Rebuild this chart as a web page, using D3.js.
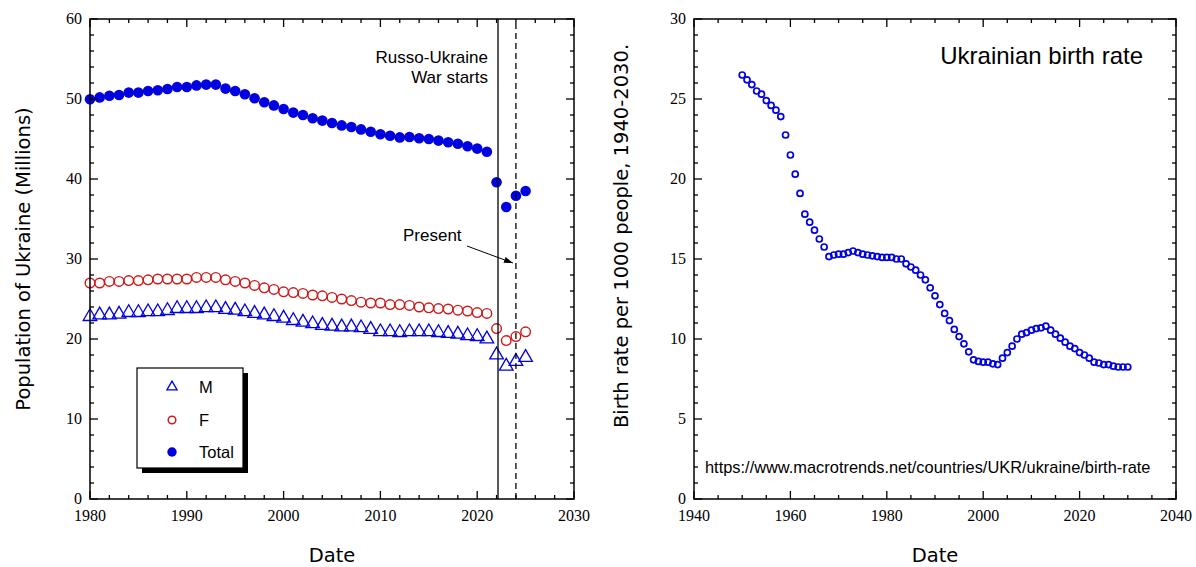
<!DOCTYPE html>
<html>
<head>
<meta charset="utf-8">
<script src="https://cdn.jsdelivr.net/npm/d3@7"></script>
<style>
  body { margin: 0; background: #fff; }
  svg { display: block; }
  .tick-label { font-family: "Liberation Serif", "DejaVu Serif", serif; font-size: 16px; fill: #000; }
  .axis-title { font-family: "DejaVu Sans", Verdana, sans-serif; font-size: 19.5px; fill: #000; }
  .note { font-family: "Liberation Sans", Arial, sans-serif; fill: #000; }
</style>
</head>
<body>
<svg id="chart" width="1196" height="567"></svg>
<script>
// population of Ukraine, millions
const popYears = d3.range(1980, 2026);
const popTotal = [49.96, 50.2, 50.4, 50.5, 50.8, 50.8, 51.0, 51.1, 51.25, 51.5,
  51.5, 51.7, 51.8, 51.8, 51.3, 51.0, 50.6, 50.1, 49.6, 49.2,
  48.75, 48.3, 48.0, 47.6, 47.3, 47.0, 46.7, 46.5, 46.2, 45.9,
  45.6, 45.4, 45.2, 45.25, 45.1, 45.0, 44.8, 44.6, 44.4, 44.1,
  43.8, 43.4, 39.6, 36.5, 37.9, 38.5];
const popF = [27.0, 27.0, 27.2, 27.2, 27.3, 27.3, 27.4, 27.5, 27.5, 27.5,
  27.5, 27.7, 27.7, 27.7, 27.4, 27.2, 27.0, 26.7, 26.4, 26.2,
  25.9, 25.8, 25.7, 25.5, 25.4, 25.2, 25.0, 24.8, 24.6, 24.5,
  24.5, 24.3, 24.3, 24.2, 24.0, 23.9, 23.8, 23.75, 23.6, 23.5,
  23.3, 23.2, 21.3, 19.8, 20.3, 20.9];
const popM = [22.8, 23.0, 23.0, 23.1, 23.3, 23.3, 23.4, 23.4, 23.55, 23.8,
  23.8, 23.8, 23.9, 23.9, 23.7, 23.6, 23.4, 23.2, 23.0, 22.8,
  22.6, 22.3, 22.1, 21.9, 21.7, 21.6, 21.5, 21.5, 21.4, 21.2,
  20.9, 20.9, 20.8, 20.9, 20.9, 20.9, 20.8, 20.7, 20.6, 20.4,
  20.3, 20.0, 18.0, 16.6, 17.2, 17.7];
const warStart = 2022.15;
const presentYear = 2024;
const legendItems = ["M", "F", "Total"];

// birth rate per 1000 people
const brYears = d3.range(1950, 2031);
const birthRate = [26.5, 26.2, 25.9, 25.5, 25.3, 24.9, 24.6, 24.3, 23.9, 22.75,
  21.5, 20.3, 19.1, 17.8, 17.3, 16.8, 16.25, 15.75, 15.15, 15.25,
  15.3, 15.3, 15.4, 15.5, 15.4, 15.3, 15.25, 15.2, 15.15, 15.1,
  15.1, 15.1, 15.0, 15.0, 14.7, 14.5, 14.3, 14.0, 13.7, 13.2,
  12.7, 12.15, 11.6, 11.15, 10.6, 10.15, 9.7, 9.2, 8.7, 8.6,
  8.55, 8.55, 8.45, 8.4, 8.8, 9.15, 9.55, 10.0, 10.3, 10.4,
  10.55, 10.65, 10.7, 10.8, 10.55, 10.3, 10.05, 9.8, 9.55, 9.4,
  9.15, 9.0, 8.8, 8.55, 8.5, 8.4, 8.4, 8.3, 8.25, 8.25,
  8.25];

const svg = d3.select("#chart");
const blue = "#0000e0";
const red = "#d01818";

// box with inward ticks on all four sides + tick labels
function frame(g, x, y, xMajor, xMinor, yMajor, yMinor) {
  const [x0, x1] = x.range();
  const [y0, y1] = y.range();
  const tg = g.append("g").attr("stroke", "#000").attr("stroke-width", 1.3);
  d3.range(x.domain()[0], x.domain()[1] + 1e-9, xMinor).forEach((v) => {
    const len = Math.abs(v % xMajor) < 1e-9 ? 8 : 4;
    tg.append("line").attr("x1", x(v)).attr("x2", x(v)).attr("y1", y0).attr("y2", y0 - len);
    tg.append("line").attr("x1", x(v)).attr("x2", x(v)).attr("y1", y1).attr("y2", y1 + len);
  });
  d3.range(y.domain()[0], y.domain()[1] + 1e-9, yMinor).forEach((v) => {
    const len = Math.abs(v % yMajor) < 1e-9 ? 8 : 4;
    tg.append("line").attr("x1", x0).attr("x2", x0 + len).attr("y1", y(v)).attr("y2", y(v));
    tg.append("line").attr("x1", x1).attr("x2", x1 - len).attr("y1", y(v)).attr("y2", y(v));
  });
  g.append("rect")
    .attr("x", x0).attr("y", y1)
    .attr("width", x1 - x0).attr("height", y0 - y1)
    .attr("fill", "none").attr("stroke", "#000").attr("stroke-width", 1.5);

  g.selectAll(".xl")
    .data(d3.range(x.domain()[0], x.domain()[1] + 1e-9, xMajor))
    .join("text")
    .attr("class", "tick-label")
    .attr("x", (d) => x(d)).attr("y", y0 + 22)
    .attr("text-anchor", "middle")
    .text((d) => d);
  g.selectAll(".yl")
    .data(d3.range(y.domain()[0], y.domain()[1] + 1e-9, yMajor))
    .join("text")
    .attr("class", "tick-label")
    .attr("x", x0 - 8).attr("y", (d) => y(d) + 5)
    .attr("text-anchor", "end")
    .text((d) => d);
}

// ---------- left: population ----------
const xL = d3.scaleLinear().domain([1980, 2030]).range([90, 574]);
const yL = d3.scaleLinear().domain([0, 60]).range([499, 19]);
const gL = svg.append("g");

const tri = d3.symbol().type(d3.symbolTriangle).size(80);
gL.selectAll(".m")
  .data(popYears.map((d, i) => [d, popM[i]]))
  .join("path")
  .attr("d", tri)
  .attr("transform", (d) => `translate(${xL(d[0])},${yL(d[1])})`)
  .attr("fill", "none").attr("stroke", blue).attr("stroke-width", 1.3);
gL.selectAll(".f")
  .data(popYears.map((d, i) => [d, popF[i]]))
  .join("circle")
  .attr("cx", (d) => xL(d[0])).attr("cy", (d) => yL(d[1])).attr("r", 4.8)
  .attr("fill", "none").attr("stroke", red).attr("stroke-width", 1.4);
gL.selectAll(".t")
  .data(popYears.map((d, i) => [d, popTotal[i]]))
  .join("circle")
  .attr("cx", (d) => xL(d[0])).attr("cy", (d) => yL(d[1])).attr("r", 5.3)
  .attr("fill", blue);

// war + present lines
gL.append("line")
  .attr("x1", xL(warStart)).attr("x2", xL(warStart))
  .attr("y1", yL(0)).attr("y2", yL(60))
  .attr("stroke", "#000").attr("stroke-width", 1.3);
gL.append("line")
  .attr("x1", xL(presentYear)).attr("x2", xL(presentYear))
  .attr("y1", yL(0)).attr("y2", yL(60))
  .attr("stroke", "#000").attr("stroke-width", 1.3)
  .attr("stroke-dasharray", "6,4");

frame(gL, xL, yL, 10, 2, 10, 2);

gL.append("text").attr("class", "note").attr("font-size", 17)
  .attr("x", 488).attr("y", 63).attr("text-anchor", "end").text("Russo-Ukraine");
gL.append("text").attr("class", "note").attr("font-size", 17)
  .attr("x", 488).attr("y", 83).attr("text-anchor", "end").text("War starts");
gL.append("text").attr("class", "note").attr("font-size", 17)
  .attr("x", 403).attr("y", 241).text("Present");

svg.append("defs").append("marker")
  .attr("id", "arrow").attr("viewBox", "0 0 10 10")
  .attr("refX", 10).attr("refY", 5)
  .attr("markerWidth", 9).attr("markerHeight", 9)
  .attr("orient", "auto")
  .append("path").attr("d", "M0,1.5 L10,5 L0,8.5 Z").attr("fill", "#000");
gL.append("line")
  .attr("x1", 467).attr("y1", 246)
  .attr("x2", xL(presentYear) - 3).attr("y2", yL(29.5))
  .attr("stroke", "#000").attr("stroke-width", 1)
  .attr("marker-end", "url(#arrow)");

// legend
const lg = gL.append("g");
lg.append("rect").attr("x", 142).attr("y", 373).attr("width", 106).attr("height", 100).attr("fill", "#000");
lg.append("rect").attr("x", 137).attr("y", 368).attr("width", 106).attr("height", 100)
  .attr("fill", "#fff").attr("stroke", "#000").attr("stroke-width", 1.2);
const legY = [387, 420, 452];
lg.append("path").attr("d", d3.symbol().type(d3.symbolTriangle).size(45))
  .attr("transform", `translate(172,${legY[0]})`)
  .attr("fill", "none").attr("stroke", blue).attr("stroke-width", 1.3);
lg.append("circle").attr("cx", 172).attr("cy", legY[1]).attr("r", 3.8)
  .attr("fill", "none").attr("stroke", red).attr("stroke-width", 1.5);
lg.append("circle").attr("cx", 172).attr("cy", legY[2]).attr("r", 4.7).attr("fill", blue);
lg.selectAll(".lt")
  .data(legendItems)
  .join("text")
  .attr("class", "note").attr("font-size", 16.5)
  .attr("x", 199).attr("y", (d, i) => legY[i] + 6)
  .attr("fill", (d) => (d === "F" ? red : blue))
  .text((d) => d);

svg.append("text").attr("class", "axis-title")
  .attr("transform", `translate(30,${(yL(0) + yL(60)) / 2}) rotate(-90)`)
  .attr("text-anchor", "middle")
  .text("Population of Ukraine (Millions)");
svg.append("text").attr("class", "axis-title")
  .attr("x", (xL(1980) + xL(2030)) / 2).attr("y", 562)
  .attr("text-anchor", "middle").text("Date");

// ---------- right: birth rate ----------
const xR = d3.scaleLinear().domain([1940, 2040]).range([694, 1176]);
const yR = d3.scaleLinear().domain([0, 30]).range([499, 19]);
const gR = svg.append("g");

gR.selectAll(".br")
  .data(brYears.map((d, i) => [d, birthRate[i]]))
  .join("circle")
  .attr("cx", (d) => xR(d[0])).attr("cy", (d) => yR(d[1])).attr("r", 3)
  .attr("fill", "none").attr("stroke", blue).attr("stroke-width", 1.7);

frame(gR, xR, yR, 20, 5, 5, 1);

gR.append("text").attr("class", "note").attr("font-size", 24)
  .attr("x", 1143).attr("y", 64).attr("text-anchor", "end").text("Ukrainian birth rate");
gR.append("text").attr("class", "note").attr("font-size", 16.4)
  .attr("x", 705).attr("y", 473)
  .text("https://www.macrotrends.net/countries/UKR/ukraine/birth-rate");

svg.append("text").attr("class", "axis-title")
  .attr("transform", "translate(628,236) rotate(-90)")
  .attr("text-anchor", "middle")
  .text("Birth rate per 1000 people, 1940-2030.");
svg.append("text").attr("class", "axis-title")
  .attr("x", (xR(1940) + xR(2040)) / 2).attr("y", 562)
  .attr("text-anchor", "middle").text("Date");
</script>
</body>
</html>
